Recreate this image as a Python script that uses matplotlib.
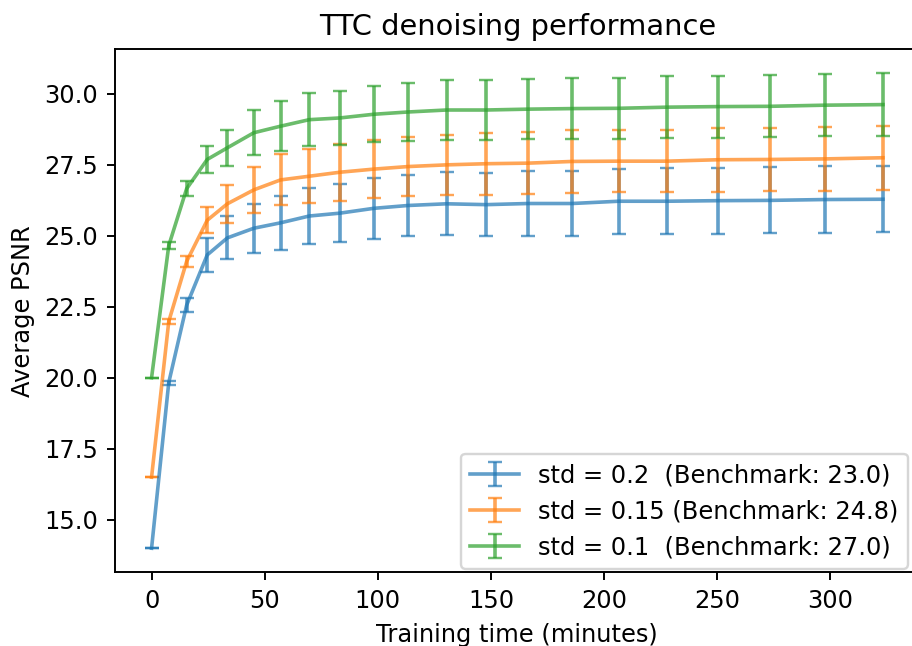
import matplotlib.pyplot as plt

# training time (minutes) at each evaluation
minutes = [0, 7.6, 15.5, 24.6, 33.5, 45.2, 57, 69.7, 83.2, 98.2, 113.3,
           130.4, 147.9, 166.4, 185.9, 206.5, 227.9, 250.4, 273.5, 297.9, 323.3]

# std = 0.2
psnr_02 = [14.0, 19.83, 22.55, 24.32, 24.92, 25.26, 25.45, 25.69, 25.79, 25.96, 26.06,
           26.12, 26.09, 26.13, 26.13, 26.21, 26.21, 26.23, 26.24, 26.27, 26.28]
err_02 = [0.0, 0.07, 0.25, 0.6, 0.76, 0.86, 0.94, 0.99, 1.02, 1.08, 1.09,
          1.11, 1.12, 1.14, 1.14, 1.15, 1.16, 1.16, 1.16, 1.17, 1.17]

# std = 0.15
psnr_015 = [16.5, 21.98, 24.09, 25.54, 26.12, 26.61, 26.96, 27.09, 27.23, 27.34, 27.43,
            27.49, 27.53, 27.55, 27.61, 27.62, 27.62, 27.67, 27.68, 27.70, 27.74]
err_015 = [0.0, 0.1, 0.19, 0.46, 0.66, 0.8, 0.9, 0.95, 1.0, 1.02, 1.05,
           1.06, 1.09, 1.09, 1.1, 1.1, 1.1, 1.12, 1.12, 1.12, 1.13]

# std = 0.1
psnr_01 = [20.0, 24.65, 26.65, 27.68, 28.09, 28.62, 28.85, 29.08, 29.14, 29.27, 29.35,
           29.42, 29.42, 29.45, 29.47, 29.48, 29.52, 29.54, 29.55, 29.59, 29.61]
err_01 = [0.0, 0.12, 0.27, 0.48, 0.64, 0.8, 0.88, 0.94, 0.95, 0.99, 1.01,
          1.04, 1.04, 1.05, 1.06, 1.07, 1.08, 1.09, 1.09, 1.09, 1.11]

labels = ['std = 0.2  (Benchmark: 23.0)',
          'std = 0.15 (Benchmark: 24.8)',
          'std = 0.1  (Benchmark: 27.0)']

DPI = 173.6
W, H = 913, 646
fig = plt.figure(figsize=(W / DPI, H / DPI), dpi=DPI)
ax = fig.add_axes([115 / W, 1 - 572 / H, (919.5 - 115) / W, (572 - 49.3) / H])

for y, e, lab in zip([psnr_02, psnr_015, psnr_01], [err_02, err_015, err_01], labels):
    ax.errorbar(minutes, y, yerr=e, capsize=3, alpha=0.7, label=lab)

ax.set_title('TTC denoising performance', fontsize=12)
ax.set_xlabel('Training time (minutes)')
ax.set_ylabel('Average PSNR')
# the axes run past the right edge of the picture, so pin the legend in pixels
ax.legend(loc='lower right', bbox_to_anchor=(908 / W, 1 - 569 / H),
          bbox_transform=fig.transFigure, borderaxespad=0)

fig.savefig('out.png', dpi=DPI)
